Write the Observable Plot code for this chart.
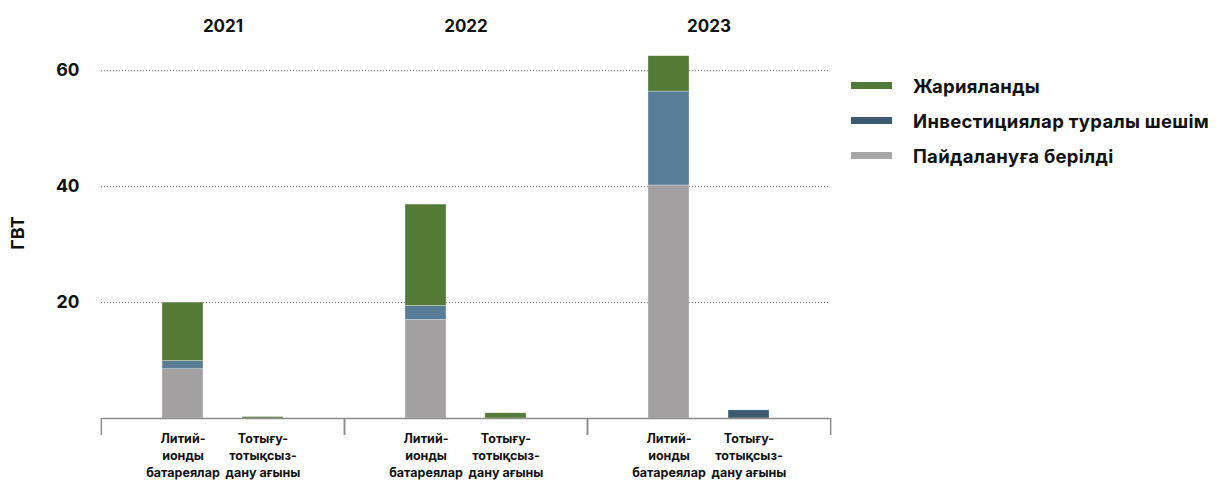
<!DOCTYPE html>
<html>
<head>
<meta charset="utf-8">
<script src="https://cdn.jsdelivr.net/npm/d3@7"></script>
<script src="https://cdn.jsdelivr.net/npm/@observablehq/plot@0.6"></script>
<style>
  html, body { margin: 0; padding: 0; background: #fff; }
  #wrap { position: relative; width: 1228px; height: 480px; font-family: Inter, "Noto Sans", sans-serif; }
  #legend { position: absolute; left: 851px; top: 68px; }
  .item { display: flex; align-items: center; height: 35px; font-weight: 700; font-size: 18.5px; letter-spacing: 0.3px; color: #111; }
  .sw { width: 41px; height: 7px; margin-right: 21px; }
</style>
</head>
<body>
<div id="wrap"><div id="legend"></div></div>
<script>
const years = ["2021", "2022", "2023"];
const techs = ["Литий-ионды батареялар", "Тотығу-тотықсыздану ағыны"];
const techLabels = ["Литий-\nионды\nбатареялар", "Тотығу-\nтотықсыз-\nдану ағыны"];
const series = ["Пайдалануға берілді", "Инвестициялар туралы шешім", "Жарияланды"];
const legendOrder = ["Жарияланды", "Инвестициялар туралы шешім", "Пайдалануға берілді"];
// values per (year, tech), order: 2021 Li, 2021 Redox, 2022 Li, 2022 Redox, 2023 Li, 2023 Redox
const commissioned = [8.5, 0, 17.0, 0, 40.2, 0];
const fid = [1.4, 0, 2.4, 0, 16.2, 1.4];
const announced = [10.1, 0.25, 17.5, 0.9, 6.1, 0];
const yTicks = [20, 40, 60];

const palette = {
  "Жарияланды": "#537b35",
  "Инвестициялар туралы шешім": "#3b5a70",
  "Пайдалануға берілді": "#a3a0a2"
};
const legendColors = {
  "Жарияланды": "#4f7a35",
  "Инвестициялар туралы шешім": "#3b5a70",
  "Пайдалануға берілді": "#a6a6a6"
};
const fidLight = "#587d96";

const seriesValues = [commissioned, fid, announced];
const rows = [];
years.forEach((year, yi) => {
  techs.forEach((tech, ti) => {
    series.forEach((s, si) => {
      rows.push({year, tech, series: s, value: seriesValues[si][yi * techs.length + ti]});
    });
  });
});

const width = 1228, height = 480;
const marginLeft = 100, marginRight = 398, marginTop = 47, marginBottom = 62;
const facetStep = (width - marginLeft - marginRight) / years.length;

const chart = Plot.plot({
  width, height, marginLeft, marginRight, marginTop, marginBottom,
  style: {fontFamily: "Inter, 'Noto Sans', sans-serif", fontWeight: 700, color: "#111", background: "#fff"},
  fx: {domain: years, paddingInner: 0, paddingOuter: 0},
  x: {domain: techs, paddingInner: 0.49, paddingOuter: 0.76},
  y: {domain: [0, 64]},
  color: {type: "identity"},
  marks: [
    Plot.gridY(yTicks, {stroke: "#6f6f6f", strokeOpacity: 1, strokeWidth: 1, strokeDasharray: "1,2"}),
    Plot.barY(rows, {
      fx: "year", x: "tech", y: "value", z: "series",
      order: series,
      fill: d => (d.series === series[1] && d.tech === techs[0]) ? fidLight : palette[d.series],
      stroke: "#fff", strokeOpacity: 0.5, strokeWidth: 0.6
    }),
    Plot.ruleY([0], {stroke: "#8c8c8c", strokeWidth: 1.5}),
    Plot.axisY(yTicks, {tickSize: 0, tickPadding: 22, fontSize: 18, fontWeight: 700,
      label: "ГВТ", labelAnchor: "center", labelOffset: 90, labelArrow: "none"}),
    Plot.axisX({tickSize: 0, tickPadding: 13, fontSize: 12.5, fontWeight: 700, lineHeight: 1.35,
      tickFormat: d => techLabels[techs.indexOf(d)], label: null}),
    Plot.axisFx({anchor: "top", tickSize: 0, tickPadding: 16, fontSize: 17, fontWeight: 700, label: null}),
    Plot.axisFx({anchor: "bottom", tickSize: 17, tickFormat: () => "", label: null,
      stroke: "#8c8c8c", strokeWidth: 1.5, dx: -facetStep / 2}),
    Plot.axisFx({anchor: "bottom", tickSize: 17, tickFormat: () => "", label: null,
      stroke: "#8c8c8c", strokeWidth: 1.5, dx: facetStep / 2})
  ]
});
document.getElementById("wrap").prepend(chart);

const legend = document.getElementById("legend");
legendOrder.forEach(s => {
  const item = document.createElement("div");
  item.className = "item";
  const sw = document.createElement("span");
  sw.className = "sw";
  sw.style.background = legendColors[s];
  const label = document.createElement("span");
  label.textContent = s;
  item.append(sw, label);
  legend.append(item);
});
</script>
</body>
</html>
